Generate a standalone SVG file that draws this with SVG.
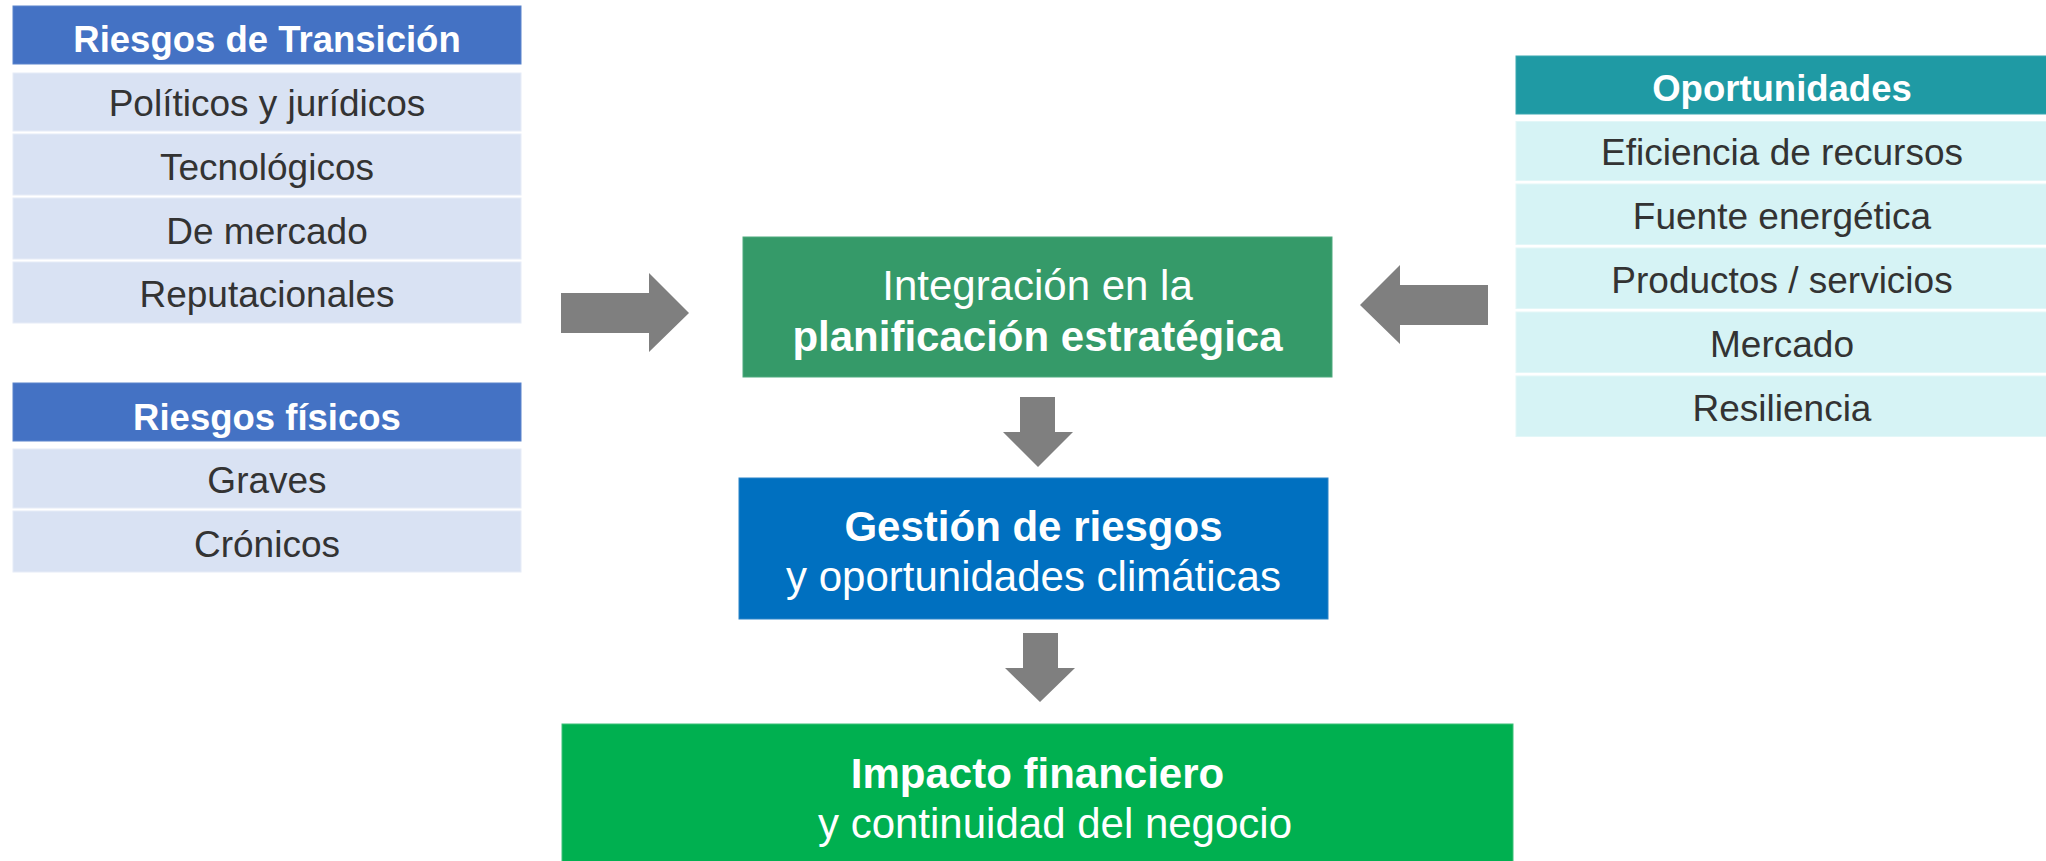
<svg xmlns="http://www.w3.org/2000/svg" width="2046" height="861" viewBox="0 0 2046 861">
<style>
text{font-family:"Liberation Sans",Arial,sans-serif;text-anchor:middle}
.hdrB{fill:#4472C4;stroke:#5A84CC;stroke-width:1}
.hdrT{fill:#1F9AA4;stroke:#3AA7B0;stroke-width:1}
.cellB{fill:#D9E2F3;stroke:#E6ECF7;stroke-width:1}
.cellT{fill:#D6F3F5;stroke:#E3F7F8;stroke-width:1}
.ht{font-size:36.5px;font-weight:bold;fill:#FFFFFF}
.ct{font-size:37px;fill:#333333}
.bt{font-size:42px;fill:#FFFFFF}
.b{font-weight:bold}
.arrow{fill:#7F7F7F}
</style>
<rect width="2046" height="861" fill="#FFFFFF"/>

<g id="riesgos-transicion">
  <rect class="hdrB" x="13" y="6" width="508" height="58"/>
  <text class="ht" x="267" y="51.5">Riesgos de Transición</text>
  <rect class="cellB" x="13" y="73" width="508" height="58"/>
  <text class="ct" x="267" y="115.5">Políticos y jurídicos</text>
  <rect class="cellB" x="13" y="134" width="508" height="61"/>
  <text class="ct" x="267" y="180">Tecnológicos</text>
  <rect class="cellB" x="13" y="198" width="508" height="61"/>
  <text class="ct" x="267" y="243.5">De mercado</text>
  <rect class="cellB" x="13" y="262" width="508" height="61"/>
  <text class="ct" x="267" y="307">Reputacionales</text>
</g>

<g id="riesgos-fisicos">
  <rect class="hdrB" x="13" y="383" width="508" height="58"/>
  <text class="ht" x="267" y="430">Riesgos físicos</text>
  <rect class="cellB" x="13" y="449" width="508" height="59"/>
  <text class="ct" x="267" y="493">Graves</text>
  <rect class="cellB" x="13" y="511" width="508" height="61"/>
  <text class="ct" x="267" y="557">Crónicos</text>
</g>

<g id="oportunidades">
  <rect class="hdrT" x="1516" y="56" width="532" height="58"/>
  <text class="ht" x="1782" y="101">Oportunidades</text>
  <rect class="cellT" x="1516" y="121.5" width="532" height="59"/>
  <text class="ct" x="1782" y="165">Eficiencia de recursos</text>
  <rect class="cellT" x="1516" y="184" width="532" height="60.5"/>
  <text class="ct" x="1782" y="229">Fuente energética</text>
  <rect class="cellT" x="1516" y="248" width="532" height="60.5"/>
  <text class="ct" x="1782" y="292.5">Productos / servicios</text>
  <rect class="cellT" x="1516" y="312" width="532" height="60.5"/>
  <text class="ct" x="1782" y="357">Mercado</text>
  <rect class="cellT" x="1516" y="376" width="532" height="60.5"/>
  <text class="ct" x="1782" y="421">Resiliencia</text>
</g>

<g id="integracion">
  <rect x="743" y="237" width="589" height="140" fill="#359A69" stroke="#4FAA7E" stroke-width="1"/>
  <text class="bt" x="1037.5" y="300">Integración en la</text>
  <text class="bt b" x="1037.5" y="351">planificación estratégica</text>
</g>

<g id="gestion">
  <rect x="739" y="478" width="589" height="141" fill="#0070C0" stroke="#2A84C8" stroke-width="1"/>
  <text class="bt b" x="1033.5" y="540.5">Gestión de riesgos</text>
  <text class="bt" x="1033.5" y="590.5">y oportunidades climáticas</text>
</g>

<g id="impacto">
  <rect x="562" y="724" width="951" height="140" fill="#00B050" stroke="#3CC079" stroke-width="1"/>
  <text class="bt b" x="1037.5" y="788">Impacto financiero</text>
  <text class="bt" x="1055" y="837.5">y continuidad del negocio</text>
</g>

<g id="connectors">
  <polygon class="arrow" points="561,293 649,293 649,273 689,313 649,352 649,333 561,333"/>
  <polygon class="arrow" points="1488,285 1400,285 1400,265 1360,305 1400,344 1400,325 1488,325"/>
  <polygon class="arrow" points="1020,397 1055,397 1055,432 1073,432 1038,467 1003,432 1020,432"/>
  <polygon class="arrow" points="1023,633 1058,633 1058,668 1075,668 1040,702 1005,668 1023,668"/>
</g>
</svg>
